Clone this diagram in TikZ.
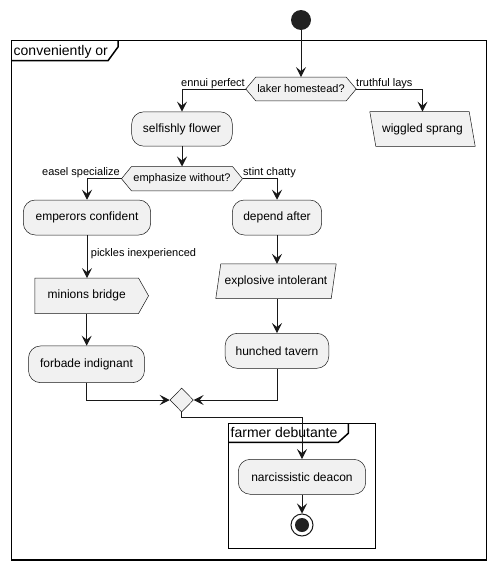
\documentclass[tikz,border=0pt]{standalone}
\usepackage{fontspec}
\setmainfont{Liberation Sans}
\usetikzlibrary{arrows.meta,calc,shapes.geometric,backgrounds}
\definecolor{pfill}{HTML}{F1F1F1}
\definecolor{pline}{HTML}{181818}
\definecolor{pdot}{HTML}{222222}
\begin{document}
\begin{tikzpicture}[x=1pt,y=-1pt,
  font=\fontsize{12}{14}\selectfont,
  act/.style={draw=pline, fill=pfill, rounded corners=12pt, line width=0.5pt, inner sep=0pt},
  shp/.style={draw=pline, fill=pfill, line width=0.5pt},
  txt/.style={inner sep=0pt},
  dtxt/.style={inner sep=0pt, font=\fontsize{11}{13}\selectfont},
  lab/.style={inner sep=0pt, font=\fontsize{11}{13}\selectfont},
  arr/.style={draw=pline, line width=1pt, -{Stealth[length=10pt,width=10pt,inset=4pt]}},
  frm/.style={draw=black, line width=1.5pt},
  ftitle/.style={inner sep=0pt, font=\fontsize{14}{16}\selectfont}
]
\useasboundingbox (0,0) rectangle (496,570);

% frames
\draw[frm] (11.7,40.7) rectangle (486.7,560);
\draw[frm] (11.7,60.7) -- (108,60.7) -- (118,47) -- (118,40.7);
\node[ftitle, anchor=base west] (f1) at (13.5,55) {conveniently or};
\draw[frm] (228.3,423.3) rectangle (375.7,548.3);
\draw[frm] (228.3,442.3) -- (338.3,442.3) -- (348.3,433.3) -- (348.3,423.3);
\node[ftitle, anchor=base west] (f2) at (230.5,437) {farmer debutante};

% nodes
\node[circle, fill=pdot, minimum size=20pt, inner sep=0pt] (s) at (301,20) {};
\node[dtxt, minimum width=90pt, minimum height=23.4pt] (d1) at (301,89) {laker homestead?};
\coordinate (d1l) at ($(d1.west)+(-10,0)$);
\coordinate (d1r) at ($(d1.east)+(10,0)$);
\node[act, minimum width=100.6pt, minimum height=34.3pt] (sf) at (182,129) {selfishly flower};
\node[txt, minimum width=99pt, minimum height=34.3pt] (ws) at (422.5,129) {wiggled sprang};
\node[dtxt, minimum width=100.6pt, minimum height=24pt] (d2) at (182,178.7) {emphasize without?};
\coordinate (d2l) at ($(d2.west)+(-10,0)$);
\coordinate (d2r) at ($(d2.east)+(10,0)$);
\node[act, minimum width=127.4pt, minimum height=35pt] (ec) at (87,217.5) {emperors confident};
\node[act, minimum width=89.4pt, minimum height=35pt] (da) at (277,217.5) {depend after};
\node[txt, minimum width=103.3pt, minimum height=35pt] (mb) at (86.7,295.8) {minions bridge};
\node[act, minimum width=116pt, minimum height=36.7pt] (fi) at (86.5,364.3) {forbade indignant};
\node[txt, minimum width=115pt, minimum height=34.3pt] (ei) at (276,281.2) {explosive intolerant};
\node[act, minimum width=103.6pt, minimum height=35pt] (ht) at (277,350.8) {hunched tavern};
\node[diamond, shp, minimum width=23.4pt, minimum height=24pt, inner sep=0pt] (m) at (181.7,400) {};
\node[act, minimum width=127.4pt, minimum height=35pt] (nd) at (302,476.8) {narcissistic deacon};
\node[circle, draw=pline, fill=white, line width=1pt, minimum size=22pt, inner sep=0pt] (e) at (302,525) {};
\node[circle, fill=pdot, minimum size=14pt, inner sep=0pt] (ei2) at (e.center) {};

% outlines drawn behind text
\begin{scope}[on background layer]
\draw[shp] (d1.north west) -- (d1l) -- (d1.south west) -- (d1.south east) -- (d1r) -- (d1.north east) -- cycle;
\draw[shp] (d2.north west) -- (d2l) -- (d2.south west) -- (d2.south east) -- (d2r) -- (d2.north east) -- cycle;
\draw[shp] ($(ws.north west)+(-3,0)$) -- ($(ws.north east)+(-3,0)$) -- ($(ws.south east)+(3,0)$) -- ($(ws.south west)+(3,0)$) -- cycle;
\draw[shp] ($(ei.north west)+(2.5,0)$) -- ($(ei.north east)+(2.5,0)$) -- ($(ei.south east)+(-2.5,0)$) -- ($(ei.south west)+(-2.5,0)$) -- cycle;
\draw[shp] (mb.north west) -- (mb.north east) -- ($(mb.east)+(10,0)$) -- (mb.south east) -- (mb.south west) -- cycle;
\end{scope}

% connectors
\draw[arr] (s) -- (d1.north);
\draw[arr] (d1l) -| (sf.north);
\draw[arr] (d1r) -| (ws.north);
\node[lab, anchor=base east] (l1) at (245,86) {ennui perfect};
\node[lab, anchor=base west] (l2) at (356,86) {truthful lays};
\draw[arr] (sf) -- (d2);
\draw[arr] (d2l) -| (ec.north);
\draw[arr] (d2r) -| (da.north);
\node[lab, anchor=base east] (l3) at (120,175.5) {easel specialize};
\node[lab, anchor=base west] (l4) at (243,175.5) {stint chatty};
\draw[arr] (ec.south) -- (ec.south |- mb.north);
\node[lab, anchor=base west] (l5) at (90.7,256.7) {pickles inexperienced};
\draw[arr] (mb.south) -- (mb.south |- fi.north);
\draw[arr] (da.south) -- (da.south |- ei.north);
\draw[arr] (da.south |- ei.south) -- (ht.north);
\draw[arr] (fi.south) |- (m.west);
\draw[arr] (ht.south) |- (m.east);
\draw[arr] (m.south) -- ($(m.south)+(0,5.3)$) -| (nd.north);
\draw[arr] (nd) -- (e);
\end{tikzpicture}
\end{document}
